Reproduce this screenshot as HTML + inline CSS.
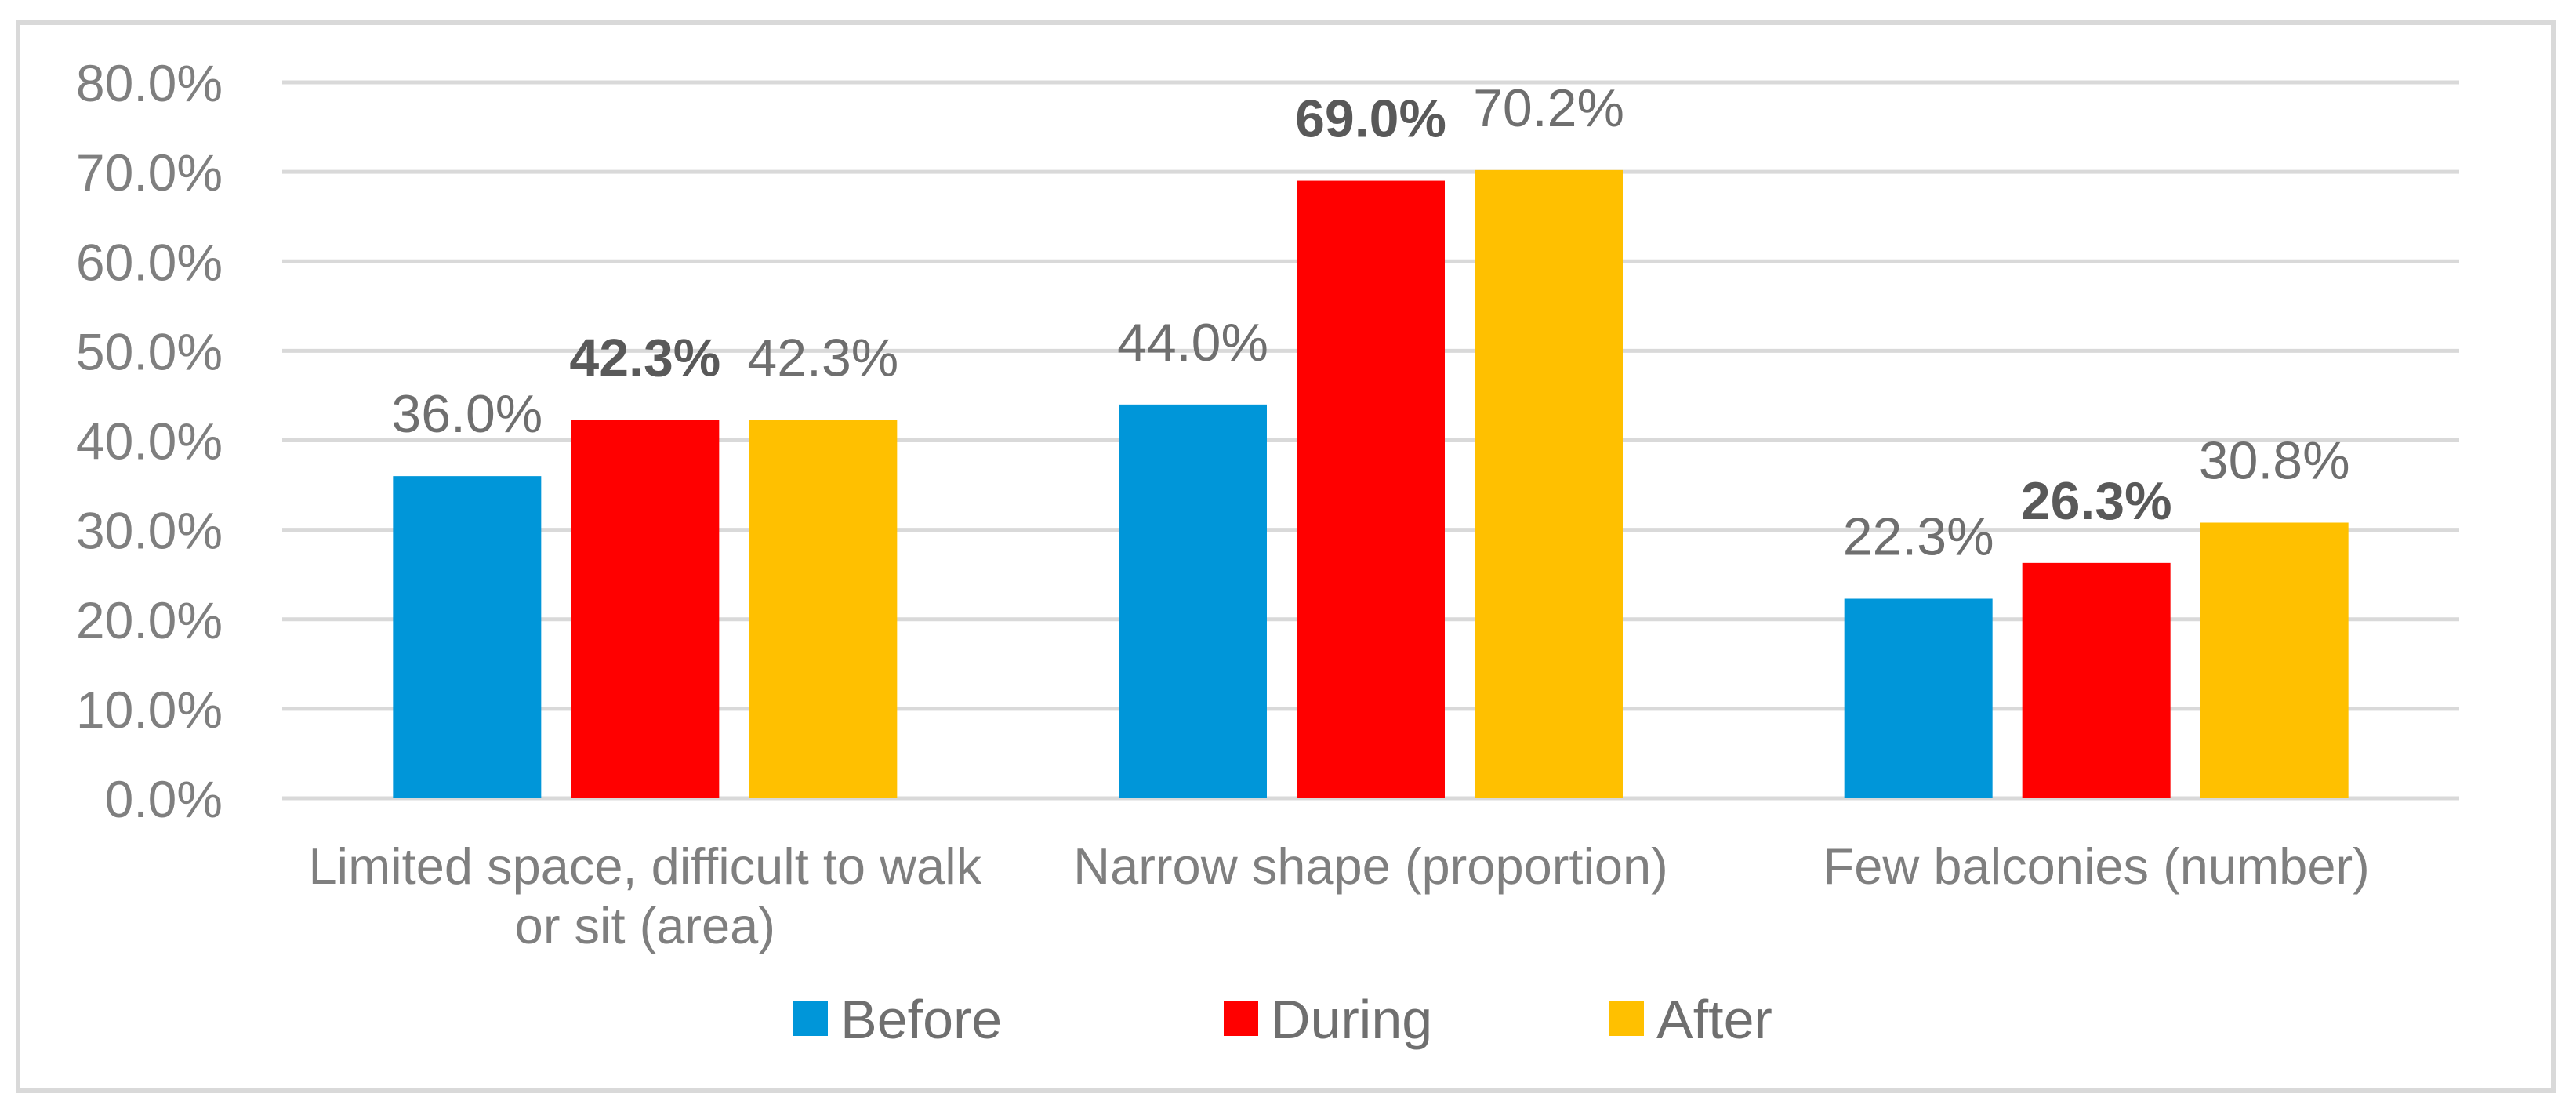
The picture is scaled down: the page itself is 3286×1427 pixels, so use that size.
<!DOCTYPE html>
<html><head><meta charset="utf-8"><style>
html,body{margin:0;padding:0;background:#fff;}
svg{display:block;font-family:"Liberation Sans",Arial,sans-serif;}
</style></head><body>
<svg id="chart" width="3286" height="1427" viewBox="0 0 3286 1427" xmlns="http://www.w3.org/2000/svg">
<rect x="23" y="29" width="3234" height="1362" fill="#fff" stroke="#d9d9d9" stroke-width="6"/>
<g id="grid"></g><g id="bars"></g><g id="labels"></g><g id="legend"></g>
</svg>
<script>
const categories = [["Limited space, difficult to walk","or sit (area)"],["Narrow shape (proportion)"],["Few balconies (number)"]];
const seriesNames = ["Before","During","After"];
const beforeValues = [36.0, 44.0, 22.3];
const duringValues = [42.3, 69.0, 26.3];
const afterValues = [42.3, 70.2, 30.8];
const tickValues = [0,10,20,30,40,50,60,70,80];
const colors = ["#0096D9","#FF0000","#FFC000"];
const series = [beforeValues, duringValues, afterValues];
const NS="http://www.w3.org/2000/svg";
const x0=360,x1=3137,y0=1018,yTop=105,vmax=80;
const y = v => y0 - (y0-yTop)*v/vmax;
const catW=(x1-x0)/categories.length, barW=189, gap=38;
function mk(tag,attrs,parent,text){const e=document.createElementNS(NS,tag);for(const k in attrs)e.setAttribute(k,attrs[k]);if(text!==undefined)e.textContent=text;parent.appendChild(e);return e;}
const grid=document.getElementById('grid'),bars=document.getElementById('bars'),labels=document.getElementById('labels'),legend=document.getElementById('legend');
tickValues.forEach(t=>{
  const l=mk('line',{x1:x0,x2:x1,y1:y(t),y2:y(t),stroke:'#d9d9d9','stroke-width':5},grid);
  
  
  const tx=mk('text',{x:284,y:y(t)+24,'text-anchor':'end','font-size':66,fill:'#7f7f7f'},grid,t.toFixed(1)+'%');
  
  
});
categories.forEach((c,i)=>{
  const cx=x0+catW*(i+0.5);
  series.forEach((s,j)=>{
    const bx=cx+(j-1)*(barW+gap)-barW/2;
    const r=mk('rect',{x:bx,y:y(s[i]),width:barW,height:y0-y(s[i]),fill:colors[j]},bars);
    
    
    const bold=j===1;
    const lt=mk('text',{x:bx+barW/2,y:y(s[i])-56,'text-anchor':'middle','font-size':68,fill:bold?'#595959':'#6f6f6f','font-weight':bold?'bold':'normal'},labels,s[i].toFixed(1)+'%');
    
    
  });
  c.forEach((line,k)=>{
    const t=mk('text',{x:cx,y:1127+k*76,'text-anchor':'middle','font-size':65,fill:'#7f7f7f'},labels,line);
    
    
  });
});
const legX=[1012,1561,2053];
seriesNames.forEach((n,j)=>{
  const g=mk('g',{},legend);
  
  
  mk('rect',{x:legX[j],y:1277,width:44,height:44,fill:colors[j]},g);
  mk('text',{x:legX[j]+60,y:1324,'font-size':70,fill:'#6f6f6f'},g,n);
});
</script>
</body></html>
